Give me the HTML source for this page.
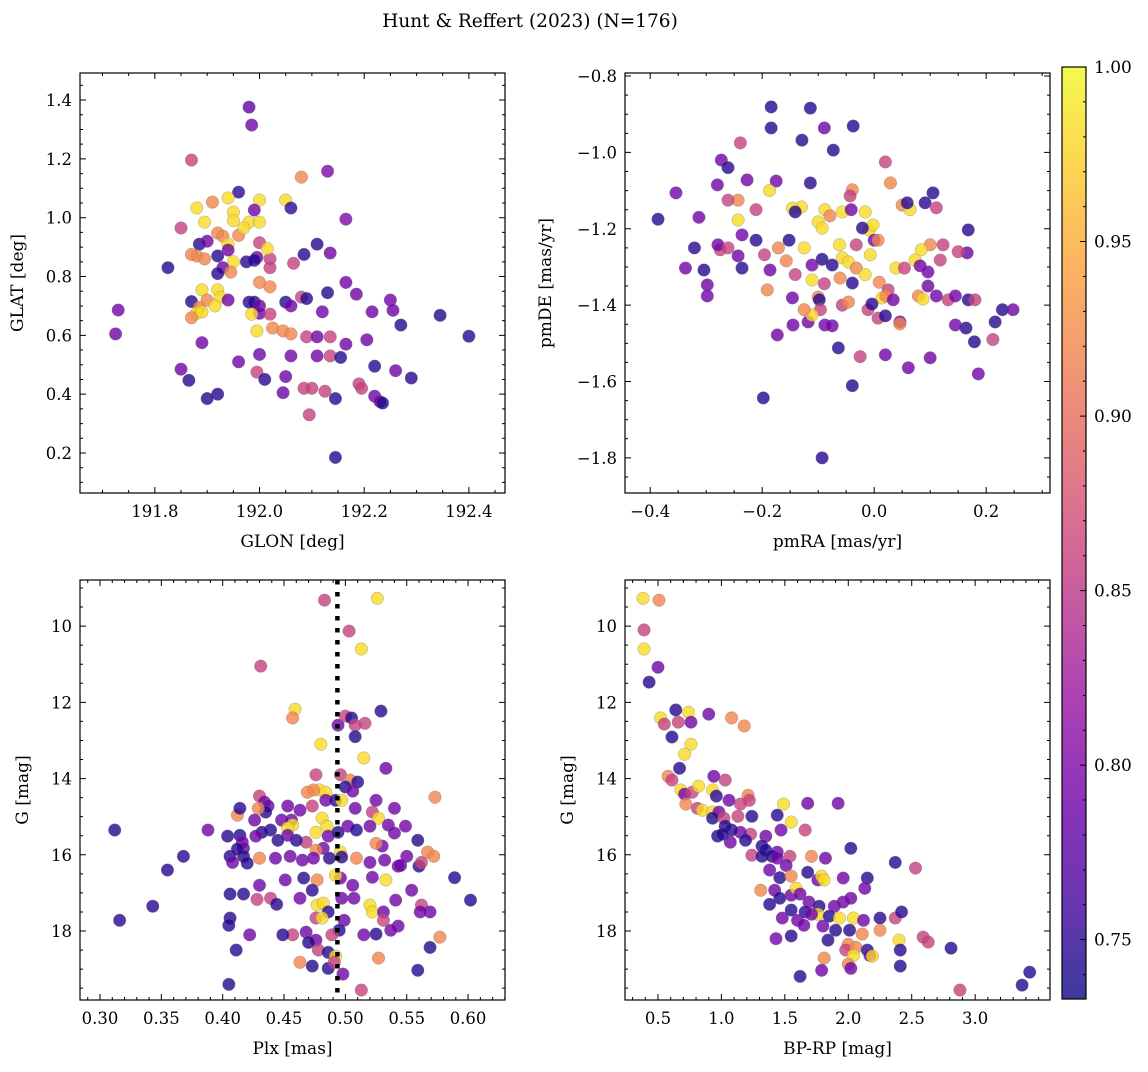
<!DOCTYPE html>
<html><head><meta charset="utf-8"><style>
body{margin:0;background:#fff}
svg text{font-family:"DejaVu Serif","Liberation Serif",serif;fill:#000}
</style></head><body>
<svg id="fig" width="1148" height="1067" viewBox="0 0 1148 1067" xmlns="http://www.w3.org/2000/svg">
<text x="530" y="27" font-size="18.5" text-anchor="middle">Hunt &amp; Reffert (2023) (N=176)</text>
</svg>
<script>
// ---- data ----
const skyPts=[[191.98,1.376,.78],[191.985,1.315,.79],[191.87,1.196,.86],[192.08,1.138,.92],[192.13,1.158,.8],[191.96,1.087,.75],[191.88,1.033,.98],[191.91,1.053,.92],[191.94,1.067,.98],[192.0,1.06,.98],[192.05,1.06,.98],[192.06,1.033,.75],[192.165,.995,.8],[191.95,1.019,.98],[191.95,.99,.98],[191.98,.985,.98],[192.0,.985,.98],[191.99,1.026,.79],[191.895,.985,.98],[191.85,.965,.86],[191.92,.948,.92],[191.93,.937,.92],[191.96,.94,.92],[191.97,.965,.98],[192.0,.915,.86],[191.885,.91,.745],[191.9,.92,.79],[191.94,.91,.98],[191.88,.87,.92],[191.87,.875,.92],[191.895,.86,.92],[191.92,.87,.745],[191.94,.89,.79],[191.95,.85,.98],[191.93,.83,.79],[191.92,.81,.745],[191.945,.815,.92],[191.975,.85,.745],[191.995,.865,.79],[191.99,.855,.745],[192.02,.86,.86],[192.02,.83,.86],[192.065,.845,.86],[192.085,.875,.745],[192.11,.91,.745],[192.135,.88,.79],[191.825,.83,.745],[192.0,.78,.92],[192.02,.765,.92],[192.08,.73,.86],[191.92,.755,.98],[191.925,.73,.98],[191.89,.755,.98],[191.87,.715,.745],[191.885,.695,.92],[191.9,.72,.92],[191.88,.675,.98],[191.89,.68,.98],[191.87,.66,.92],[191.915,.7,.98],[191.94,.72,.79],[191.98,.713,.745],[191.99,.713,.745],[192.0,.7,.79],[192.0,.675,.79],[191.985,.672,.98],[192.02,.672,.86],[192.05,.713,.745],[192.06,.7,.79],[192.09,.725,.745],[192.13,.745,.745],[192.165,.78,.79],[192.185,.74,.79],[192.12,.68,.79],[192.215,.68,.79],[192.25,.72,.79],[192.255,.685,.79],[192.27,.635,.745],[192.345,.668,.745],[192.4,.597,.745],[191.73,.686,.79],[191.725,.605,.79],[191.995,.615,.98],[192.025,.625,.92],[192.045,.615,.92],[192.06,.605,.92],[192.09,.595,.86],[192.11,.595,.79],[192.135,.595,.86],[192.165,.57,.79],[192.205,.585,.79],[191.89,.575,.79],[191.96,.51,.79],[192.0,.535,.79],[192.06,.53,.79],[192.11,.53,.79],[192.135,.53,.86],[192.155,.525,.745],[191.995,.475,.86],[192.01,.45,.745],[192.05,.46,.79],[191.85,.485,.79],[191.865,.447,.745],[191.92,.4,.745],[191.9,.385,.745],[192.045,.405,.79],[192.1,.42,.86],[192.125,.41,.86],[192.19,.435,.86],[192.195,.42,.86],[192.22,.393,.79],[192.23,.375,.79],[192.235,.37,.745],[192.22,.495,.745],[192.26,.48,.79],[192.29,.455,.745],[192.145,.385,.745],[192.145,.185,.745],[192.095,.33,.86],[192.085,.42,.86],[192.015,.895,.98]];
const pmPts=[[-.184,-.881,.745],[-.114,-.884,.745],[-.184,-.936,.745],[-.089,-.936,.79],[-.0375,-.931,.745],[-.175,-1.075,.79],[-.114,-1.08,.745],[-.073,-.994,.745],[-.129,-.968,.745],[-.239,-.975,.86],[-.273,-1.02,.79],[-.261,-1.04,.745],[-.227,-1.072,.79],[.02,-1.025,.86],[.029,-1.08,.92],[-.039,-1.098,.92],[-.043,-1.114,.86],[-.187,-1.1,.98],[-.13,-1.143,.98],[-.146,-1.146,.98],[-.141,-1.156,.745],[-.243,-1.125,.92],[-.261,-1.125,.86],[-.28,-1.085,.79],[-.313,-1.17,.79],[-.354,-1.106,.79],[-.386,-1.175,.745],[-.243,-1.177,.98],[-.211,-1.15,.86],[-.088,-1.15,.98],[-.057,-1.156,.98],[-.1,-1.182,.98],[-.093,-1.198,.98],[-.079,-1.166,.92],[-.041,-1.15,.79],[-.016,-1.156,.98],[-.009,-1.203,.98],[-.002,-1.19,.98],[0,-1.23,.79],[-.021,-1.198,.745],[.05,-1.138,.92],[.064,-1.15,.98],[.091,-1.132,.745],[.059,-1.132,.745],[.105,-1.106,.745],[.111,-1.145,.86],[.168,-1.203,.745],[.166,-1.263,.79],[.15,-1.26,.86],[.123,-1.242,.86],[.1,-1.242,.92],[.084,-1.255,.98],[.073,-1.282,.98],[.082,-1.297,.79],[.118,-1.282,.86],[-.007,-1.268,.98],[.007,-1.23,.92],[-.032,-1.242,.86],[-.062,-1.242,.98],[-.057,-1.276,.98],[-.075,-1.295,.745],[-.093,-1.28,.745],[-.111,-1.295,.79],[-.125,-1.25,.98],[-.152,-1.23,.745],[-.171,-1.25,.92],[-.196,-1.268,.86],[-.157,-1.284,.92],[-.141,-1.32,.86],[-.111,-1.334,.98],[-.046,-1.287,.98],[-.032,-1.303,.92],[-.016,-1.32,.98],[-.039,-1.342,.745],[-.061,-1.329,.92],[.009,-1.34,.92],[.025,-1.36,.86],[.039,-1.303,.98],[.054,-1.303,.86],[.014,-1.381,.98],[.021,-1.376,.92],[.007,-1.434,.86],[-.011,-1.412,.86],[-.004,-1.397,.745],[.02,-1.428,.745],[.034,-1.386,.79],[.046,-1.444,.79],[.079,-1.376,.92],[.087,-1.384,.98],[.096,-1.313,.79],[.096,-1.35,.79],[.111,-1.376,.79],[.132,-1.386,.86],[.145,-1.376,.79],[.168,-1.386,.745],[.18,-1.386,.86],[.164,-1.46,.745],[.179,-1.496,.745],[.186,-1.58,.79],[.216,-1.444,.745],[.229,-1.412,.745],[.248,-1.412,.79],[.212,-1.49,.86],[.145,-1.452,.79],[.1,-1.538,.79],[.061,-1.564,.79],[.02,-1.53,.79],[.046,-1.449,.92],[-.025,-1.535,.86],[-.039,-1.611,.745],[-.064,-1.512,.745],[-.118,-1.444,.79],[-.088,-1.452,.79],[-.075,-1.454,.79],[-.057,-1.4,.86],[-.046,-1.392,.92],[-.1,-1.379,.92],[-.098,-1.386,.745],[-.096,-1.412,.86],[-.089,-1.344,.86],[-.111,-1.426,.98],[-.125,-1.412,.92],[-.146,-1.381,.79],[-.145,-1.452,.79],[-.173,-1.478,.79],[-.191,-1.36,.92],[-.186,-1.308,.79],[-.236,-1.303,.745],[-.275,-1.255,.86],[-.279,-1.242,.79],[-.261,-1.25,.86],[-.243,-1.271,.79],[-.236,-1.216,.79],[-.211,-1.23,.745],[-.304,-1.308,.745],[-.298,-1.347,.79],[-.298,-1.376,.79],[-.321,-1.25,.745],[-.337,-1.303,.79],[-.198,-1.643,.745],[-.093,-1.8,.745]];
const plxPts=[[.483,9.32,.86],[.526,9.27,.98],[.503,10.13,.86],[.513,10.6,.98],[.431,11.05,.86],[.529,12.23,.745],[.494,12.6,.79],[.5,12.36,.86],[.505,12.41,.745],[.516,12.55,.86],[.508,12.6,.86],[.459,12.18,.98],[.457,12.41,.92],[.508,12.9,.745],[.533,13.73,.79],[.48,13.1,.98],[.515,13.46,.98],[.496,13.9,.86],[.476,13.9,.86],[.504,14.04,.92],[.51,14.09,.745],[.5,14.22,.745],[.506,14.33,.79],[.479,14.3,.98],[.484,14.36,.98],[.474,14.3,.92],[.469,14.36,.92],[.484,14.57,.79],[.492,14.57,.745],[.497,14.57,.98],[.508,14.78,.79],[.522,14.88,.86],[.525,14.57,.79],[.527,15.04,.98],[.54,14.78,.79],[.573,14.49,.92],[.473,14.72,.86],[.463,14.83,.79],[.453,14.72,.79],[.43,14.46,.86],[.434,14.62,.79],[.437,14.72,.79],[.435,14.88,.745],[.429,14.78,.92],[.412,14.96,.92],[.414,14.78,.745],[.426,15.09,.79],[.448,15.09,.79],[.439,15.35,.745],[.456,15.09,.79],[.457,15.22,.98],[.453,15.3,.98],[.481,15.04,.98],[.485,15.25,.98],[.476,15.41,.98],[.486,15.51,.79],[.494,15.41,.745],[.502,15.25,.79],[.509,15.35,.745],[.52,15.25,.79],[.535,15.22,.79],[.549,15.25,.79],[.559,15.62,.745],[.54,15.43,.79],[.53,15.77,.79],[.525,15.7,.92],[.496,15.93,.98],[.482,15.83,.79],[.476,15.88,.92],[.468,15.67,.86],[.46,15.62,.745],[.453,15.49,.79],[.445,15.62,.745],[.432,15.41,.745],[.427,15.51,.79],[.414,15.49,.745],[.404,15.51,.745],[.416,15.67,.79],[.417,15.83,.79],[.417,16.04,.745],[.406,16.04,.745],[.412,15.85,.745],[.388,15.35,.79],[.312,15.35,.745],[.368,16.04,.745],[.355,16.4,.745],[.408,16.2,.79],[.42,16.22,.745],[.43,16.09,.92],[.443,16.09,.79],[.455,16.04,.79],[.465,16.14,.79],[.474,16.09,.79],[.487,16.09,.745],[.497,16.06,.745],[.509,16.09,.92],[.52,16.2,.79],[.532,16.14,.79],[.543,16.3,.79],[.55,16.04,.79],[.56,16.3,.745],[.567,15.93,.92],[.572,16.04,.92],[.562,16.2,.86],[.545,16.28,.79],[.589,16.6,.745],[.533,16.66,.98],[.522,16.59,.79],[.506,16.8,.79],[.496,16.61,.79],[.492,16.54,.98],[.477,16.66,.92],[.466,16.61,.745],[.451,16.66,.79],[.43,16.8,.79],[.417,17.03,.745],[.406,17.03,.745],[.343,17.35,.745],[.316,17.72,.745],[.406,17.66,.745],[.428,17.17,.86],[.439,17.14,.86],[.444,17.3,.745],[.463,17.14,.79],[.473,16.93,.745],[.477,17.32,.98],[.482,17.27,.98],[.486,17.5,.745],[.497,17.14,.79],[.507,17.14,.79],[.52,17.32,.98],[.522,17.5,.98],[.531,17.5,.79],[.541,17.19,.79],[.554,16.93,.79],[.562,17.32,.86],[.569,17.5,.79],[.602,17.19,.745],[.561,17.5,.79],[.476,17.66,.86],[.481,17.66,.98],[.499,17.72,.79],[.531,17.72,.86],[.543,17.87,.79],[.537,17.98,.79],[.515,18.1,.79],[.525,18.08,.745],[.495,17.98,.745],[.489,18.1,.86],[.476,18.24,.79],[.468,18.03,.79],[.457,18.1,.86],[.449,18.1,.745],[.422,18.1,.79],[.405,17.85,.745],[.47,18.3,.745],[.577,18.16,.92],[.569,18.43,.745],[.411,18.5,.745],[.478,18.5,.86],[.486,18.56,.745],[.463,18.82,.92],[.473,18.92,.745],[.486,18.98,.745],[.492,18.66,.98],[.527,18.71,.92],[.491,18.82,.86],[.559,19.03,.745],[.498,19.13,.79],[.513,19.55,.86],[.405,19.4,.745]];
const cmdPts=[[.382,9.27,.98],[.508,9.32,.92],[.39,10.1,.86],[.39,10.6,.98],[.5,11.08,.79],[.43,11.47,.745],[.64,12.2,.745],[.74,12.26,.98],[.9,12.31,.79],[1.08,12.41,.92],[1.18,12.62,.92],[.52,12.41,.98],[.55,12.57,.86],[.66,12.52,.86],[.76,12.52,.79],[.61,12.91,.745],[.76,13.1,.98],[.71,13.36,.98],[.67,13.73,.745],[.58,13.94,.92],[.61,14.04,.86],[.94,13.94,.79],[1.03,14.04,.86],[.68,14.3,.98],[.71,14.41,.79],[.77,14.36,.86],[.82,14.2,.98],[.93,14.3,.98],[.96,14.46,.745],[1.21,14.44,.92],[1.22,14.57,.86],[1.15,14.67,.86],[1.06,14.57,.79],[.72,14.67,.92],[.81,14.78,.86],[.85,14.83,.98],[.93,14.88,.98],[.98,14.88,.79],[.93,15.04,.745],[1.02,15.04,.86],[1.13,14.99,.86],[1.24,14.99,.745],[1.44,14.96,.745],[1.49,14.67,.98],[1.68,14.65,.79],[1.92,14.65,.79],[1.55,15.14,.98],[1.66,15.35,.86],[1.47,15.35,.79],[1.35,15.51,.79],[1.23,15.46,.86],[1.15,15.41,.79],[1.08,15.35,.745],[1.03,15.25,.745],[.97,15.51,.745],[1.01,15.46,.745],[1.07,15.67,.79],[1.19,15.62,.745],[1.32,15.77,.745],[1.35,15.88,.745],[1.44,15.93,.79],[1.24,16.01,.86],[1.32,16.04,.745],[1.4,16.04,.745],[1.44,16.09,.79],[1.54,16.04,.86],[1.71,16.04,.92],[1.82,16.09,.79],[2.02,15.83,.745],[1.51,16.28,.79],[1.38,16.4,.79],[1.46,16.6,.745],[1.55,16.56,.92],[1.68,16.46,.745],[1.76,16.66,.79],[1.79,16.56,.98],[1.81,16.66,.98],[1.96,16.61,.79],[2.15,16.61,.745],[2.37,16.2,.745],[2.53,16.35,.86],[1.31,16.93,.92],[1.42,16.93,.79],[1.55,17.06,.79],[1.59,16.88,.98],[1.38,17.3,.745],[1.46,17.14,.745],[1.62,17.03,.79],[1.69,17.24,.79],[1.77,17.35,.745],[1.89,17.35,.79],[1.96,17.24,.79],[2.02,17.14,.79],[2.13,16.88,.79],[1.55,17.45,.745],[1.66,17.5,.745],[1.76,17.56,.98],[1.85,17.61,.745],[1.93,17.66,.98],[2.04,17.66,.98],[2.12,17.72,.79],[2.25,17.66,.745],[2.37,17.66,.86],[2.42,17.5,.745],[1.48,17.66,.79],[1.6,17.72,.79],[1.71,17.56,.79],[1.8,17.87,.79],[1.9,17.98,.745],[2.01,17.98,.745],[2.11,18.08,.92],[2.25,17.98,.92],[2.4,18.24,.98],[2.59,18.16,.86],[1.65,17.85,.79],[1.43,18.2,.79],[1.55,18.13,.745],[1.84,18.24,.745],[2.0,18.35,.92],[1.98,18.5,.86],[2.06,18.43,.92],[2.15,18.5,.745],[2.17,18.64,.79],[2.63,18.29,.86],[2.81,18.45,.745],[2.41,18.5,.745],[1.81,18.71,.92],[2.04,18.64,.98],[2.19,18.66,.98],[2.0,18.87,.92],[2.02,18.98,.79],[2.41,18.92,.745],[1.79,19.03,.79],[1.62,19.19,.745],[2.88,19.55,.86],[3.43,19.08,.745],[3.37,19.42,.745]];
const plxRef=0.4935;
const cbarTicks=[0.75,0.80,0.85,0.90,0.95,1.00];
const cbarTickLabels=["0.75","0.80","0.85","0.90","0.95","1.00"];
const glonTicks=[191.8,192.0,192.2,192.4];
const glatTicks=[0.2,0.4,0.6,0.8,1.0,1.2,1.4];
const pmraTicks=[-0.4,-0.2,0.0,0.2];
const pmdeTicks=[-1.8,-1.6,-1.4,-1.2,-1.0,-0.8];
const plxTicks=[0.30,0.35,0.40,0.45,0.50,0.55,0.60];
const gTicks=[10,12,14,16,18];
const bprpTicks=[0.5,1.0,1.5,2.0,2.5,3.0];
const vmin=0.733, vmax=1.0;

// ---- rendering ----
const svg=document.getElementById('fig');
const NS='http://www.w3.org/2000/svg';
function mk(tag,attrs,parent){const e=document.createElementNS(NS,tag);for(const k in attrs)e.setAttribute(k,attrs[k]);(parent||svg).appendChild(e);return e;}
const stops=[[0,[13,8,135]],[.1,[65,4,157]],[.2,[106,0,168]],[.3,[143,13,164]],[.4,[177,42,144]],[.5,[204,71,120]],[.6,[225,100,98]],[.7,[242,132,75]],[.8,[252,166,54]],[.9,[252,206,37]],[1,[240,249,33]]];
function plasma(t){t=Math.max(0,Math.min(1,t));for(let i=1;i<stops.length;i++){if(t<=stops[i][0]){const a=stops[i-1],b=stops[i],f=(t-a[0])/(b[0]-a[0]);const c=a[1].map((v,j)=>Math.round(v+(b[1][j]-v)*f));return `rgb(${c})`;}}return 'rgb(240,249,33)';}
function fmt(v,d){const s=Math.abs(v).toFixed(d);return (v<-1e-9?'\u2212':'')+s;}
function panel(o){
  const g=mk('g',{});
  
  
  const sx=v=>o.x0+(v-o.xmin)/(o.xmax-o.xmin)*(o.x1-o.x0);
  const sy=v=>o.invert? o.y0+(v-o.ymin)/(o.ymax-o.ymin)*(o.y1-o.y0) : o.y1-(v-o.ymin)/(o.ymax-o.ymin)*(o.y1-o.y0);
  const cid='clip'+o.name;
  const cp=mk('clipPath',{id:cid},g);mk('rect',{x:o.x0,y:o.y0,width:o.x1-o.x0,height:o.y1-o.y0},cp);
  const pg=mk('g',{'clip-path':`url(#${cid})`},g);
  
  
  o.pts.forEach(d=>{
    const c=mk('circle',{cx:sx(d[0]),cy:sy(d[1]),r:6.3,fill:plasma((d[2]-vmin)/(vmax-vmin)),'fill-opacity':0.8,stroke:'#777','stroke-opacity':0.6,'stroke-width':0.5},pg);
    
    
  });
  if(o.vline!==undefined){
    const l=mk('line',{x1:sx(o.vline),x2:sx(o.vline),y1:o.y0,y2:o.y1,stroke:'#000','stroke-width':4.5,'stroke-dasharray':'4.5 7.5'},pg);
    
    
  }
  const fr=mk('rect',{x:o.x0,y:o.y0,width:o.x1-o.x0,height:o.y1-o.y0,fill:'none',stroke:'#000','stroke-width':1.2},g);
  
  
  let p='';
  const mx0=Math.ceil(o.xmin/o.xminor-1e-6),mx1=Math.floor(o.xmax/o.xminor+1e-6);
  for(let k=mx0;k<=mx1;k++){const X=sx(k*o.xminor);p+=`M${X},${o.y1}v-3M${X},${o.y0}v3`;}
  const my0=Math.ceil(o.ymin/o.yminor-1e-6),my1=Math.floor(o.ymax/o.yminor+1e-6);
  for(let k=my0;k<=my1;k++){const Y=sy(k*o.yminor);p+=`M${o.x0},${Y}h3M${o.x1},${Y}h-3`;}
  o.xt.forEach(v=>{const X=sx(v);p+=`M${X},${o.y1}v-6M${X},${o.y0}v6`;});
  o.yt.forEach(v=>{const Y=sy(v);p+=`M${o.x0},${Y}h6M${o.x1},${Y}h-6`;});
  const tp=mk('path',{d:p,stroke:'#000','stroke-width':1,fill:'none'},g);
  
  
  o.xt.forEach(v=>{const t=mk('text',{x:sx(v),y:o.y1+24,'font-size':16.5,'text-anchor':'middle'},g);t.textContent=fmt(v,o.xd);
    
    });
  o.yt.forEach(v=>{const t=mk('text',{x:o.x0-8,y:sy(v)+6,'font-size':16.5,'text-anchor':'end'},g);t.textContent=fmt(v,o.yd);
    
    });
  const xl=mk('text',{x:(o.x0+o.x1)/2,y:o.y1+54,'font-size':17,'text-anchor':'middle'},g);xl.textContent=o.xlab;
  
  
  const yl=mk('text',{x:0,y:0,'font-size':17,'text-anchor':'middle',transform:`translate(${o.ylx},${(o.y0+o.y1)/2}) rotate(-90)`},g);yl.textContent=o.ylab;
  
  
}
panel({name:'sky-panel',pts:skyPts,x0:80,x1:505,y0:73,y1:493,xmin:191.657,xmax:192.469,ymin:0.064,ymax:1.492,xt:glonTicks,yt:glatTicks,xminor:0.05,yminor:0.05,xd:1,yd:1,xlab:'GLON [deg]',ylab:'GLAT [deg]',ylx:23});
panel({name:'proper-motion-panel',pts:pmPts,x0:625,x1:1050,y0:73,y1:493,xmin:-0.445,xmax:0.314,ymin:-1.892,ymax:-0.792,xt:pmraTicks,yt:pmdeTicks,xminor:0.05,yminor:0.05,xd:1,yd:1,xlab:'pmRA [mas/yr]',ylab:'pmDE [mas/yr]',ylx:551});
panel({name:'parallax-panel',pts:plxPts,x0:80,x1:505,y0:580,y1:1000,xmin:0.2837,xmax:0.6301,ymin:8.79,ymax:19.81,invert:true,xt:plxTicks,yt:gTicks,xminor:0.01,yminor:0.5,xd:2,yd:0,xlab:'Plx [mas]',ylab:'G [mag]',ylx:28,vline:plxRef});
panel({name:'cmd-panel',pts:cmdPts,x0:625,x1:1050,y0:580,y1:1000,xmin:0.24,xmax:3.59,ymin:8.79,ymax:19.81,invert:true,xt:bprpTicks,yt:gTicks,xminor:0.1,yminor:0.5,xd:1,yd:0,xlab:'BP-RP [mag]',ylab:'G [mag]',ylx:573});

// colorbar
const cb=mk('g',{});


const cx0=1062,cx1=1086,cy0=67,cy1=999;
const cby=v=>cy1-(v-vmin)/(vmax-vmin)*(cy1-cy0);
const defs=mk('defs',{},cb);const lg=mk('linearGradient',{id:'cbg',x1:0,y1:1,x2:0,y2:0},defs);
for(let i=0;i<=20;i++){mk('stop',{offset:i/20,'stop-color':plasma(i/20)},lg);}
const cr=mk('rect',{x:cx0,y:cy0,width:cx1-cx0,height:cy1-cy0,fill:'url(#cbg)','fill-opacity':0.8},cb);


mk('rect',{x:cx0,y:cy0,width:cx1-cx0,height:cy1-cy0,fill:'none',stroke:'#000','stroke-width':1.2},cb);
let cp='';
for(let v=0.74;v<=1.0001;v+=0.01){cp+=`M${cx1},${cby(v)}h-3`;}
cbarTicks.forEach(v=>{cp+=`M${cx1},${cby(v)}h-6`;});
mk('path',{d:cp,stroke:'#000','stroke-width':1},cb);
cbarTicks.forEach((v,i)=>{const t=mk('text',{x:cx1+8,y:cby(v)+6,'font-size':17},cb);t.textContent=cbarTickLabels[i];
  
  });
</script>
</body></html>
